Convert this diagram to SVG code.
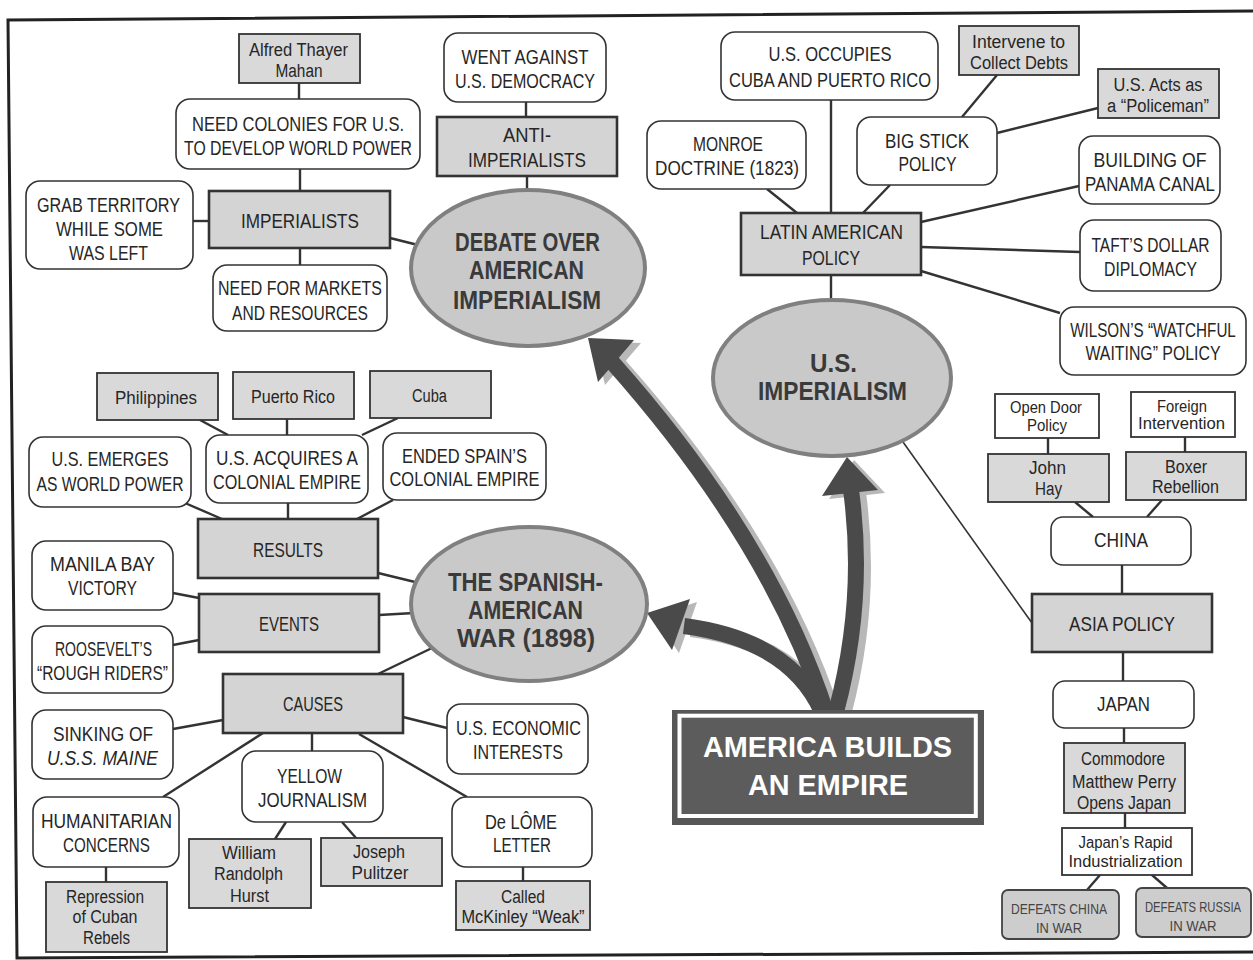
<svg xmlns="http://www.w3.org/2000/svg" width="1253" height="960" viewBox="0 0 1253 960">
<defs>
<style>
.t{font-family:"Liberation Sans",Arial,sans-serif;font-size:21px;fill:#262626;text-anchor:middle;dominant-baseline:central}
.s{font-size:18px}
.xs{font-size:16px}
.d{font-size:15px;fill:#444}
.b{font-weight:bold;font-size:25px;fill:#3a3a3a}
.ti{font-weight:bold;font-size:30px;fill:#fff}
.it{font-style:italic}
.wb{fill:#fff;stroke:#333;stroke-width:1.6}
.wr{fill:#fff;stroke:#333;stroke-width:1.8}
.gb{fill:#d9d9d9;stroke:#333;stroke-width:1.8}
.gm{fill:#d4d4d4;stroke:#333;stroke-width:2.6}
.gd{fill:#cdcdcd;stroke:#444;stroke-width:1.8}
.ell{fill:#c9c9c9;stroke:#808080;stroke-width:4}
.c{stroke:#333;stroke-width:2.4;fill:none}
.thin{stroke-width:1.6}
.sh{fill:none;stroke:#b8b8b8;stroke-width:16}
.shh{fill:#b8b8b8}
.ar{fill:none;stroke:#4a4a4a;stroke-width:16}
.arh{fill:#4a4a4a}
</style>
</defs>
<rect width="1253" height="960" fill="#fff"/>
<path d="M1253 11 L8 20 L17 958 L1253 952" fill="none" stroke="#222" stroke-width="3"/>
<g id="connectors">
<line class="c" x1="299" y1="83" x2="299" y2="99"/>
<line class="c" x1="300" y1="169" x2="300" y2="191"/>
<line class="c" x1="193" y1="221" x2="209" y2="221"/>
<line class="c" x1="300" y1="248" x2="300" y2="265"/>
<line class="c" x1="390" y1="238" x2="422" y2="246"/>
<line class="c" x1="526" y1="102" x2="526" y2="117"/>
<line class="c" x1="527" y1="176" x2="527" y2="192"/>
<line class="c" x1="831" y1="100" x2="831" y2="213"/>
<line class="c" x1="767" y1="189" x2="797" y2="213"/>
<line class="c" x1="890" y1="185" x2="863" y2="213"/>
<line class="c" x1="997" y1="75" x2="962" y2="117"/>
<line class="c" x1="997" y1="133" x2="1098" y2="108"/>
<line class="c" x1="921" y1="222" x2="1079" y2="186"/>
<line class="c" x1="921" y1="247" x2="1080" y2="252"/>
<line class="c" x1="921" y1="271" x2="1060" y2="313"/>
<line class="c" x1="831" y1="275" x2="831" y2="302"/>
<line class="c thin" x1="903" y1="442" x2="1032" y2="623"/>
<line class="c" x1="1048" y1="438" x2="1048" y2="454"/>
<line class="c" x1="1185" y1="437" x2="1185" y2="452"/>
<line class="c" x1="1075" y1="502" x2="1093" y2="517"/>
<line class="c" x1="1162" y1="500" x2="1147" y2="517"/>
<line class="c" x1="1122" y1="565" x2="1122" y2="594"/>
<line class="c" x1="1123" y1="652" x2="1123" y2="681"/>
<line class="c" x1="1124" y1="728" x2="1124" y2="743"/>
<line class="c" x1="1125" y1="813" x2="1125" y2="828"/>
<line class="c" x1="1100" y1="875" x2="1087" y2="890"/>
<line class="c" x1="1152" y1="875" x2="1167" y2="888"/>
<line class="c" x1="200" y1="420" x2="228" y2="435"/>
<line class="c" x1="287" y1="419" x2="287" y2="435"/>
<line class="c" x1="398" y1="418" x2="362" y2="435"/>
<line class="c" x1="185" y1="503" x2="222" y2="519"/>
<line class="c" x1="288" y1="503" x2="288" y2="519"/>
<line class="c" x1="393" y1="500" x2="357" y2="519"/>
<line class="c" x1="378" y1="573" x2="415" y2="582"/>
<line class="c" x1="173" y1="593" x2="199" y2="598"/>
<line class="c" x1="379" y1="615" x2="414" y2="613"/>
<line class="c" x1="173" y1="645" x2="199" y2="640"/>
<line class="c" x1="378" y1="674" x2="432" y2="648"/>
<line class="c" x1="173" y1="729" x2="223" y2="720"/>
<line class="c" x1="163" y1="797" x2="263" y2="733"/>
<line class="c" x1="106" y1="867" x2="106" y2="882"/>
<line class="c" x1="312" y1="733" x2="312" y2="751"/>
<line class="c" x1="286" y1="822" x2="275" y2="839"/>
<line class="c" x1="342" y1="822" x2="356" y2="838"/>
<line class="c" x1="403" y1="717" x2="447" y2="728"/>
<line class="c" x1="359" y1="734" x2="467" y2="797"/>
<line class="c" x1="523" y1="867" x2="523" y2="881"/>
<g id="arrows">
<g transform="translate(7,3)">
<path class="sh" d="M826 712 Q770 540 612 362"/>
<polygon class="shh" points="588,338 634,340 598,382"/>
<path class="sh" d="M836 712 Q866 600 851 490"/>
<polygon class="shh" points="847,457 878,490 822,496"/>
<path class="sh" d="M822 712 Q790 640 684 626"/>
<polygon class="shh" points="647,613 690,599 672,650"/>
</g>
<path class="ar" d="M826 712 Q770 540 612 362"/>
<polygon class="arh" points="588,338 634,340 598,382"/>
<path class="ar" d="M836 712 Q866 600 851 490"/>
<polygon class="arh" points="847,457 878,490 822,496"/>
<path class="ar" d="M822 712 Q790 640 684 626"/>
<polygon class="arh" points="647,613 690,599 672,650"/>
</g>
</g>
<g id="mahan"><rect class="gb" x="239" y="34" width="121" height="49"/>
<text class="t s" x="298.5" y="50" textLength="99" lengthAdjust="spacingAndGlyphs">Alfred Thayer</text>
<text class="t s" x="299" y="71" textLength="47" lengthAdjust="spacingAndGlyphs">Mahan</text></g>
<g id="need-colonies"><rect class="wb" x="176" y="99" width="244" height="70" rx="14"/>
<text class="t" x="298" y="123" textLength="212" lengthAdjust="spacingAndGlyphs">NEED COLONIES FOR U.S.</text>
<text class="t" x="298" y="147" textLength="228" lengthAdjust="spacingAndGlyphs">TO DEVELOP WORLD POWER</text></g>
<g id="imperialists"><rect class="gm" x="209" y="191" width="181" height="57"/>
<text class="t" x="300" y="220" textLength="118" lengthAdjust="spacingAndGlyphs">IMPERIALISTS</text></g>
<g id="grab"><rect class="wb" x="26" y="181" width="167" height="88" rx="14"/>
<text class="t" x="108.5" y="204" textLength="143" lengthAdjust="spacingAndGlyphs">GRAB TERRITORY</text>
<text class="t" x="109.5" y="228" textLength="107" lengthAdjust="spacingAndGlyphs">WHILE SOME</text>
<text class="t" x="108.5" y="252" textLength="79" lengthAdjust="spacingAndGlyphs">WAS LEFT</text></g>
<g id="markets"><rect class="wb" x="213" y="265" width="174" height="66" rx="14"/>
<text class="t" x="300" y="287" textLength="164" lengthAdjust="spacingAndGlyphs">NEED FOR MARKETS</text>
<text class="t" x="300" y="312" textLength="136" lengthAdjust="spacingAndGlyphs">AND RESOURCES</text></g>
<g id="went-against"><rect class="wb" x="444" y="33" width="162" height="69" rx="14"/>
<text class="t" x="525" y="56" textLength="127" lengthAdjust="spacingAndGlyphs">WENT AGAINST</text>
<text class="t" x="525" y="80" textLength="140" lengthAdjust="spacingAndGlyphs">U.S. DEMOCRACY</text></g>
<g id="anti"><rect class="gm" x="437" y="117" width="180" height="59"/>
<text class="t" x="527" y="134" textLength="48" lengthAdjust="spacingAndGlyphs">ANTI-</text>
<text class="t" x="527" y="159" textLength="118" lengthAdjust="spacingAndGlyphs">IMPERIALISTS</text></g>
<g id="debate"><ellipse class="ell" cx="528" cy="268" rx="117" ry="78"/>
<text class="t b" x="527.5" y="242" textLength="145" lengthAdjust="spacingAndGlyphs">DEBATE OVER</text>
<text class="t b" x="526.5" y="270" textLength="115" lengthAdjust="spacingAndGlyphs">AMERICAN</text>
<text class="t b" x="527" y="300" textLength="148" lengthAdjust="spacingAndGlyphs">IMPERIALISM</text></g>
<g id="monroe"><rect class="wb" x="647" y="121" width="159" height="68" rx="14"/>
<text class="t" x="728" y="143" textLength="70" lengthAdjust="spacingAndGlyphs">MONROE</text>
<text class="t" x="727" y="167" textLength="144" lengthAdjust="spacingAndGlyphs">DOCTRINE (1823)</text></g>
<g id="occupies"><rect class="wb" x="721" y="32" width="217" height="68" rx="14"/>
<text class="t" x="830" y="53" textLength="123" lengthAdjust="spacingAndGlyphs">U.S. OCCUPIES</text>
<text class="t" x="830" y="79" textLength="202" lengthAdjust="spacingAndGlyphs">CUBA AND PUERTO RICO</text></g>
<g id="latin"><rect class="gm" x="741" y="213" width="180" height="62"/>
<text class="t" x="831.5" y="231" textLength="143" lengthAdjust="spacingAndGlyphs">LATIN AMERICAN</text>
<text class="t" x="831" y="257" textLength="58" lengthAdjust="spacingAndGlyphs">POLICY</text></g>
<g id="bigstick"><rect class="wb" x="857" y="117" width="140" height="68" rx="14"/>
<text class="t" x="927" y="140" textLength="84" lengthAdjust="spacingAndGlyphs">BIG STICK</text>
<text class="t" x="927.5" y="163" textLength="58" lengthAdjust="spacingAndGlyphs">POLICY</text></g>
<g id="intervene"><rect class="gb" x="959" y="26" width="120" height="49"/>
<text class="t s" x="1018.5" y="42" textLength="93" lengthAdjust="spacingAndGlyphs">Intervene to</text>
<text class="t s" x="1019" y="63" textLength="98" lengthAdjust="spacingAndGlyphs">Collect Debts</text></g>
<g id="policeman"><rect class="gb" x="1098" y="69" width="121" height="49"/>
<text class="t s" x="1158" y="85" textLength="89" lengthAdjust="spacingAndGlyphs">U.S. Acts as</text>
<text class="t s" x="1158" y="106" textLength="102" lengthAdjust="spacingAndGlyphs">a “Policeman”</text></g>
<g id="panama"><rect class="wb" x="1079" y="136" width="141" height="68" rx="14"/>
<text class="t" x="1150" y="159" textLength="113" lengthAdjust="spacingAndGlyphs">BUILDING OF</text>
<text class="t" x="1150" y="183" textLength="130" lengthAdjust="spacingAndGlyphs">PANAMA CANAL</text></g>
<g id="taft"><rect class="wb" x="1080" y="220" width="141" height="71" rx="14"/>
<text class="t" x="1150.5" y="244" textLength="118" lengthAdjust="spacingAndGlyphs">TAFT’S DOLLAR</text>
<text class="t" x="1150.5" y="268" textLength="93" lengthAdjust="spacingAndGlyphs">DIPLOMACY</text></g>
<g id="wilson"><rect class="wb" x="1060" y="307" width="186" height="68" rx="14"/>
<text class="t" transform="translate(1153,330) scale(0.725,1)">WILSON’S “WATCHFUL</text>
<text class="t" transform="translate(1153,353) scale(0.755,1)">WAITING” POLICY</text></g>
<g id="us-imperialism"><ellipse class="ell" cx="832" cy="378" rx="119" ry="78"/>
<text class="t b" x="833.5" y="363" textLength="47" lengthAdjust="spacingAndGlyphs">U.S.</text>
<text class="t b" x="832.5" y="391" textLength="149" lengthAdjust="spacingAndGlyphs">IMPERIALISM</text></g>
<g id="opendoor"><rect class="wr" x="995" y="394" width="104" height="44"/>
<text class="t xs" x="1046" y="407" textLength="72" lengthAdjust="spacingAndGlyphs">Open Door</text>
<text class="t xs" x="1047" y="425" textLength="40" lengthAdjust="spacingAndGlyphs">Policy</text></g>
<g id="foreign"><rect class="wr" x="1131" y="392" width="104" height="45"/>
<text class="t xs" x="1182" y="406" textLength="50" lengthAdjust="spacingAndGlyphs">Foreign</text>
<text class="t xs" x="1181.5" y="423" textLength="87" lengthAdjust="spacingAndGlyphs">Intervention</text></g>
<g id="johnhay"><rect class="gb" x="988" y="454" width="121" height="48"/>
<text class="t s" x="1047.5" y="468" textLength="37" lengthAdjust="spacingAndGlyphs">John</text>
<text class="t s" x="1048.5" y="489" textLength="27" lengthAdjust="spacingAndGlyphs">Hay</text></g>
<g id="boxer"><rect class="gb" x="1126" y="452" width="120" height="48"/>
<text class="t s" x="1186" y="467" textLength="42" lengthAdjust="spacingAndGlyphs">Boxer</text>
<text class="t s" x="1185.5" y="487" textLength="67" lengthAdjust="spacingAndGlyphs">Rebellion</text></g>
<g id="china"><rect class="wb" x="1051" y="517" width="140" height="48" rx="12"/>
<text class="t" x="1121" y="539" textLength="54" lengthAdjust="spacingAndGlyphs">CHINA</text></g>
<g id="asia"><rect class="gm" x="1032" y="594" width="180" height="58"/>
<text class="t" x="1122" y="623" textLength="106" lengthAdjust="spacingAndGlyphs">ASIA POLICY</text></g>
<g id="japan"><rect class="wb" x="1053" y="681" width="141" height="47" rx="12"/>
<text class="t" x="1123.5" y="703" textLength="53" lengthAdjust="spacingAndGlyphs">JAPAN</text></g>
<g id="perry"><rect class="gb" x="1064" y="743" width="121" height="70"/>
<text class="t s" x="1123" y="759" textLength="84" lengthAdjust="spacingAndGlyphs">Commodore</text>
<text class="t s" x="1124" y="782" textLength="104" lengthAdjust="spacingAndGlyphs">Matthew Perry</text>
<text class="t s" x="1124" y="803" textLength="94" lengthAdjust="spacingAndGlyphs">Opens Japan</text></g>
<g id="rapid"><rect class="wr" x="1062" y="828" width="130" height="47"/>
<text class="t xs" x="1125.5" y="842" textLength="94" lengthAdjust="spacingAndGlyphs">Japan’s Rapid</text>
<text class="t xs" x="1125.5" y="861" textLength="114" lengthAdjust="spacingAndGlyphs">Industrialization</text></g>
<g id="defeats-china"><rect class="gd" x="1002" y="890" width="117" height="49" rx="6"/>
<text class="t d" x="1059" y="908" textLength="96" lengthAdjust="spacingAndGlyphs">DEFEATS CHINA</text>
<text class="t d" x="1059" y="927" textLength="46" lengthAdjust="spacingAndGlyphs">IN WAR</text></g>
<g id="defeats-russia"><rect class="gd" x="1136" y="888" width="115" height="49" rx="6"/>
<text class="t d" transform="translate(1193,907) scale(0.75,1)">DEFEATS RUSSIA</text>
<text class="t d" x="1193" y="925" textLength="47" lengthAdjust="spacingAndGlyphs">IN WAR</text></g>
<g id="philippines"><rect class="gb" x="97" y="373" width="121" height="47"/>
<text class="t s" x="156" y="398" textLength="82" lengthAdjust="spacingAndGlyphs">Philippines</text></g>
<g id="puerto-rico"><rect class="gb" x="233" y="372" width="121" height="47"/>
<text class="t s" x="293" y="397" textLength="84" lengthAdjust="spacingAndGlyphs">Puerto Rico</text></g>
<g id="cuba"><rect class="gb" x="370" y="371" width="121" height="47"/>
<text class="t s" x="429.5" y="396" textLength="35" lengthAdjust="spacingAndGlyphs">Cuba</text></g>
<g id="acquires"><rect class="wb" x="206" y="435" width="162" height="68" rx="14"/>
<text class="t" x="287" y="457" textLength="142" lengthAdjust="spacingAndGlyphs">U.S. ACQUIRES A</text>
<text class="t" x="287" y="481" textLength="148" lengthAdjust="spacingAndGlyphs">COLONIAL EMPIRE</text></g>
<g id="emerges"><rect class="wb" x="29" y="437" width="162" height="70" rx="14"/>
<text class="t" x="110" y="458" textLength="117" lengthAdjust="spacingAndGlyphs">U.S. EMERGES</text>
<text class="t" x="110" y="483" textLength="147" lengthAdjust="spacingAndGlyphs">AS WORLD POWER</text></g>
<g id="ended"><rect class="wb" x="383" y="433" width="163" height="67" rx="14"/>
<text class="t" x="464.5" y="455" textLength="125" lengthAdjust="spacingAndGlyphs">ENDED SPAIN’S</text>
<text class="t" x="464.5" y="478" textLength="150" lengthAdjust="spacingAndGlyphs">COLONIAL EMPIRE</text></g>
<g id="results"><rect class="gm" x="198" y="519" width="180" height="59"/>
<text class="t" x="288" y="549" textLength="70" lengthAdjust="spacingAndGlyphs">RESULTS</text></g>
<g id="manila"><rect class="wb" x="32" y="541" width="141" height="69" rx="14"/>
<text class="t" x="102.5" y="563" textLength="105" lengthAdjust="spacingAndGlyphs">MANILA BAY</text>
<text class="t" x="102.5" y="587" textLength="69" lengthAdjust="spacingAndGlyphs">VICTORY</text></g>
<g id="events"><rect class="gm" x="199" y="594" width="180" height="58"/>
<text class="t" x="289" y="623" textLength="60" lengthAdjust="spacingAndGlyphs">EVENTS</text></g>
<g id="roosevelt"><rect class="wb" x="32" y="626" width="141" height="67" rx="14"/>
<text class="t" x="103.5" y="648" textLength="97" lengthAdjust="spacingAndGlyphs">ROOSEVELT’S</text>
<text class="t" x="102.5" y="672" textLength="131" lengthAdjust="spacingAndGlyphs">“ROUGH RIDERS”</text></g>
<g id="spanish-american-war"><ellipse class="ell" cx="529" cy="604" rx="118" ry="77"/>
<text class="t b" x="525.5" y="582" textLength="155" lengthAdjust="spacingAndGlyphs">THE SPANISH-</text>
<text class="t b" x="525.5" y="610" textLength="115" lengthAdjust="spacingAndGlyphs">AMERICAN</text>
<text class="t b" x="526" y="638" textLength="138" lengthAdjust="spacingAndGlyphs">WAR (1898)</text></g>
<g id="causes"><rect class="gm" x="223" y="674" width="180" height="59"/>
<text class="t" x="313" y="703" textLength="60" lengthAdjust="spacingAndGlyphs">CAUSES</text></g>
<g id="sinking"><rect class="wb" x="32" y="710" width="141" height="69" rx="14"/>
<text class="t" x="103" y="733" textLength="100" lengthAdjust="spacingAndGlyphs">SINKING OF</text>
<text class="t it" x="102.5" y="757" textLength="111" lengthAdjust="spacingAndGlyphs">U.S.S. MAINE</text></g>
<g id="humanitarian"><rect class="wb" x="33" y="797" width="146" height="70" rx="14"/>
<text class="t" x="106.5" y="820" textLength="131" lengthAdjust="spacingAndGlyphs">HUMANITARIAN</text>
<text class="t" x="106.5" y="844" textLength="87" lengthAdjust="spacingAndGlyphs">CONCERNS</text></g>
<g id="repression"><rect class="gb" x="46" y="882" width="121" height="70"/>
<text class="t s" x="105" y="897" textLength="78" lengthAdjust="spacingAndGlyphs">Repression</text>
<text class="t s" x="105" y="917" textLength="65" lengthAdjust="spacingAndGlyphs">of Cuban</text>
<text class="t s" x="106.5" y="938" textLength="47" lengthAdjust="spacingAndGlyphs">Rebels</text></g>
<g id="yellow"><rect class="wb" x="242" y="751" width="141" height="71" rx="14"/>
<text class="t" x="309.5" y="775" textLength="65" lengthAdjust="spacingAndGlyphs">YELLOW</text>
<text class="t" x="312.5" y="799" textLength="109" lengthAdjust="spacingAndGlyphs">JOURNALISM</text></g>
<g id="hearst"><rect class="gb" x="189" y="839" width="122" height="69"/>
<text class="t s" x="249" y="853" textLength="54" lengthAdjust="spacingAndGlyphs">William</text>
<text class="t s" x="248.5" y="874" textLength="69" lengthAdjust="spacingAndGlyphs">Randolph</text>
<text class="t s" x="249.5" y="896" textLength="39" lengthAdjust="spacingAndGlyphs">Hurst</text></g>
<g id="pulitzer"><rect class="gb" x="321" y="838" width="121" height="48"/>
<text class="t s" x="379" y="852" textLength="52" lengthAdjust="spacingAndGlyphs">Joseph</text>
<text class="t s" x="380" y="873" textLength="57" lengthAdjust="spacingAndGlyphs">Pulitzer</text></g>
<g id="economic"><rect class="wb" x="447" y="704" width="141" height="70" rx="14"/>
<text class="t" x="518.5" y="727" textLength="125" lengthAdjust="spacingAndGlyphs">U.S. ECONOMIC</text>
<text class="t" x="518" y="751" textLength="90" lengthAdjust="spacingAndGlyphs">INTERESTS</text></g>
<g id="delome"><rect class="wb" x="452" y="797" width="140" height="70" rx="14"/>
<text class="t" x="521" y="821" textLength="72" lengthAdjust="spacingAndGlyphs">De LÔME</text>
<text class="t" x="522" y="844" textLength="58" lengthAdjust="spacingAndGlyphs">LETTER</text></g>
<g id="called"><rect class="gb" x="456" y="881" width="134" height="49"/>
<text class="t s" x="523" y="897" textLength="44" lengthAdjust="spacingAndGlyphs">Called</text>
<text class="t s" x="523" y="917" textLength="123" lengthAdjust="spacingAndGlyphs">McKinley “Weak”</text></g>
<g id="title"><rect x="672" y="710" width="312" height="115" fill="#575757"/>
<rect x="679.5" y="715.7" width="296.3" height="100.3" fill="#5c5c5c" stroke="#fff" stroke-width="4"/>
<text class="t ti" x="827.5" y="746" textLength="249" lengthAdjust="spacingAndGlyphs">AMERICA BUILDS</text>
<text class="t ti" x="828" y="784" textLength="160" lengthAdjust="spacingAndGlyphs">AN EMPIRE</text></g>
</svg>
